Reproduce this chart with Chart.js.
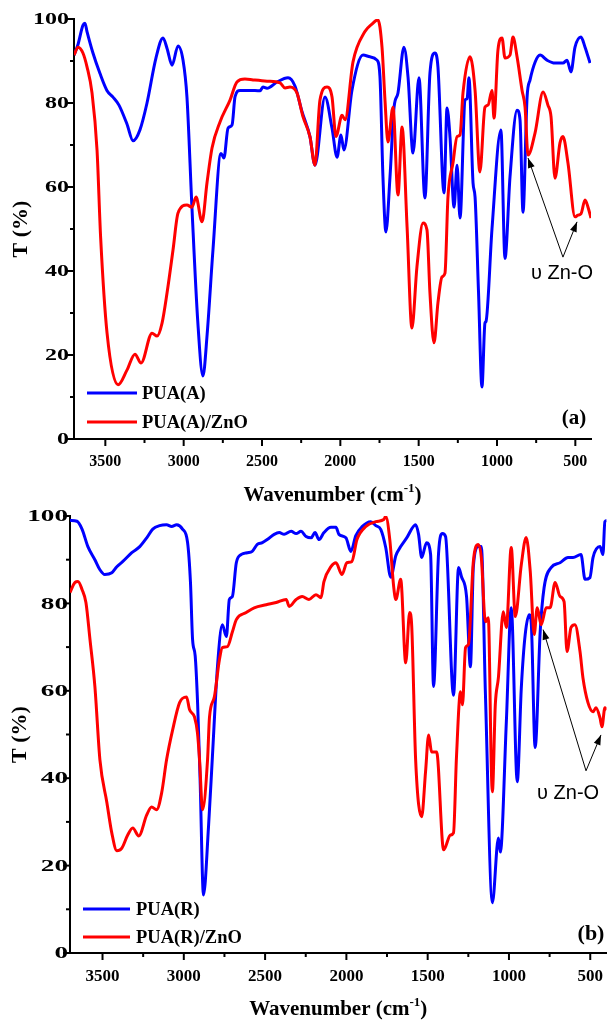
<!DOCTYPE html>
<html>
<head>
<meta charset="utf-8">
<script src="https://cdn.jsdelivr.net/npm/chart.js@4.4.1/dist/chart.umd.min.js"></script>
<style>
  body { margin: 0; background: #fff; }
  .panel { position: absolute; left: 0; }
  #panel-a { top: 0; }
  #panel-b { top: 505px; }
</style>
</head>
<body>
<div class="panel" id="panel-a"><canvas id="chart-a" width="609" height="505"></canvas></div>
<div class="panel" id="panel-b"><canvas id="chart-b" width="609" height="517"></canvas></div>
<script>
// axis ticks (cm-1 and %)
const xTickLabels = [3500, 3000, 2500, 2000, 1500, 1000, 500];
const xMinorTicks = [3250, 2750, 2250, 1750, 1250, 750];
const yTickLabels = [0, 20, 40, 60, 80, 100];
const yMinorTicks = [10, 30, 50, 70, 90];

// (a) PUA(A)
const puaA_wn = [3700, 3674, 3643, 3630, 3617, 3579, 3534, 3490, 3451, 3413,
  3362, 3323, 3279, 3234, 3177, 3132, 3106, 3074, 3036, 3004,
  2979, 2947, 2910, 2877, 2850, 2813, 2762, 2743, 2717, 2691,
  2672, 2640, 2577, 2513, 2494, 2468, 2404, 2334, 2289, 2245,
  2194, 2162, 2098, 2053, 2021, 1996, 1977, 1926, 1855, 1811,
  1766, 1747, 1728, 1709, 1683, 1657, 1632, 1594, 1568, 1536,
  1498, 1460, 1428, 1396, 1377, 1338, 1319, 1300, 1274, 1255,
  1236, 1204, 1191, 1179, 1153, 1140, 1118, 1096, 1077, 1070,
  1032, 975, 949, 917, 872, 853, 834, 808, 789, 757,
  725, 681, 630, 579, 553, 528, 502, 464, 438, 406];
const puaA_T = [91.4, 94, 98.5, 99, 97, 91.9, 87, 83, 81.4, 79.5,
  75, 71, 73.6, 80, 90.7, 95.5, 93, 89, 93.6, 90.2,
  81.4, 55, 28, 15, 25, 45, 68, 66.9, 74, 74.8,
  81.5, 83, 83, 82.9, 83.8, 83.5, 85, 86, 84, 78,
  72, 65.2, 81.4, 74, 67.1, 72.4, 68.8, 83, 91.4, 91,
  90.2, 86.2, 62.4, 49.3, 62.4, 79, 82.4, 93.3, 86.2, 68.1,
  86, 57.4, 87.1, 91.9, 88.6, 58.6, 78.8, 71.9, 55.2, 65.2,
  52.6, 80.7, 81, 86, 61, 57.6, 35, 12.4, 27.6, 28,
  50, 73.6, 43, 62.4, 78.3, 76, 54, 81.4, 85.5, 89.7,
  91.4, 90.2, 89.5, 89.5, 90.2, 87.4, 93.3, 95.7, 93.3, 89.5];

// (a) PUA(A)/ZnO
const puaAZnO_wn = [3700, 3674, 3643, 3617, 3585, 3553, 3530, 3489, 3419, 3362,
  3311, 3272, 3202, 3170, 3138, 3106, 3068, 3036, 2979, 2947,
  2921, 2883, 2851, 2819, 2768, 2704, 2660, 2609, 2557, 2468,
  2385, 2353, 2321, 2277, 2238, 2194, 2162, 2130, 2085, 2053,
  2028, 1989, 1970, 1919, 1843, 1798, 1760, 1734, 1715, 1696,
  1664, 1632, 1606, 1574, 1543, 1511, 1472, 1447, 1428, 1402,
  1377, 1351, 1332, 1313, 1281, 1255, 1236, 1217, 1172, 1140,
  1109, 1077, 1057, 1032, 1019, 994, 968, 949, 917, 898,
  872, 840, 821, 802, 757, 706, 675, 655, 630, 598,
  579, 547, 502, 483, 464, 438, 419, 400];
const puaAZnO_T = [91.4, 93.3, 91.9, 88.6, 82.4, 68.8, 48, 25.2, 12.9, 16.4,
  20.2, 18.1, 25.2, 24.5, 27.6, 34.8, 45, 53.8, 55.7, 55.2,
  57.6, 51.7, 61, 69.3, 75.5, 80.7, 85, 85.7, 85.5, 85.2,
  84.8, 83.6, 83.8, 82.4, 76.7, 72, 65.2, 80.7, 83.8, 81.4,
  72, 77.1, 76, 89.8, 97, 98.8, 99.8, 93.3, 80.7, 70.7,
  79, 58.1, 74.3, 50.5, 26.4, 41, 51.4, 49.8, 34.8, 22.9,
  32.4, 38.6, 39.5, 57.6, 65.7, 72, 72.4, 82.4, 91, 83,
  63.6, 79, 79.5, 83, 76.4, 92.6, 95.5, 90.7, 91.4, 95.7,
  91, 83, 79, 67.6, 72.9, 82.6, 79.5, 76.7, 62.1, 70.5,
  72, 65.7, 52.9, 53.3, 53.6, 56.9, 55.2, 52.6];

// (b) PUA(R)
const puaR_wn = [3700, 3657, 3626, 3590, 3547, 3516, 3486, 3443, 3412, 3375,
  3320, 3271, 3228, 3191, 3149, 3106, 3075, 3044, 3008, 2977,
  2959, 2946, 2930, 2915, 2900, 2879, 2848, 2824, 2793, 2763,
  2738, 2720, 2701, 2677, 2646, 2609, 2579, 2548, 2517, 2487,
  2444, 2413, 2383, 2340, 2309, 2279, 2248, 2217, 2193, 2168,
  2138, 2095, 2064, 2046, 2003, 1972, 1942, 1905, 1850, 1819,
  1788, 1758, 1727, 1696, 1666, 1629, 1574, 1556, 1537, 1507,
  1482, 1464, 1433, 1409, 1390, 1341, 1310, 1292, 1261, 1237,
  1219, 1188, 1170, 1145, 1102, 1065, 1053, 1016, 986, 949,
  924, 900, 875, 863, 839, 808, 784, 741, 686, 637,
  606, 557, 532, 502, 483, 440, 422, 410, 398];
const puaR_T = [99, 98.8, 97, 93, 90, 87.7, 86.6, 87, 88.4, 89.6,
  91.6, 93, 95, 97, 97.8, 98, 97.6, 98, 97, 94,
  84.8, 71.7, 68, 57, 40, 13.3, 28.9, 45, 65.5, 75.1,
  72.4, 80.9, 81.6, 89.3, 91.2, 91.6, 91.9, 93.5, 93.9, 94.6,
  95.8, 96.2, 95.8, 96.5, 96, 96.5, 95.3, 95, 96.2, 94.6,
  96.2, 97.4, 97.4, 95.8, 95, 91.9, 95.5, 97.5, 98.7, 97.8,
  96.9, 92.8, 86, 90.9, 93, 95, 98, 95.8, 90.5, 93.9,
  91.2, 61, 91.5, 96, 95.3, 59, 88.2, 86.1, 81.6, 65.5,
  88.4, 93, 93, 59.6, 11.5, 26.3, 23.1, 53, 79, 39.2,
  60.7, 72.9, 77.4, 75.6, 47, 73.5, 83.6, 88.2, 89.3, 90.5,
  90.5, 91.2, 85.5, 85.9, 90.5, 93, 91.2, 98.7, 99];

// (b) PUA(R)/ZnO
const puaRZnO_wn = [3700, 3669, 3651, 3626, 3602, 3577, 3547, 3516, 3473, 3443,
  3412, 3381, 3345, 3314, 3277, 3228, 3198, 3167, 3136, 3106,
  3069, 3026, 2983, 2965, 2934, 2916, 2903, 2885, 2854, 2842,
  2812, 2781, 2763, 2732, 2701, 2677, 2616, 2567, 2493, 2432,
  2370, 2352, 2309, 2272, 2230, 2187, 2156, 2138, 2095, 2064,
  2027, 1997, 1966, 1935, 1880, 1819, 1770, 1758, 1733, 1709,
  1696, 1666, 1635, 1611, 1598, 1574, 1537, 1513, 1494, 1476,
  1445, 1402, 1360, 1341, 1323, 1298, 1286, 1267, 1249, 1219,
  1188, 1170, 1145, 1127, 1108, 1102, 1084, 1065, 1035, 1016,
  986, 961, 924, 894, 869, 845, 826, 802, 771, 747,
  716, 686, 661, 643, 618, 594, 563, 545, 514, 483,
  465, 440, 428, 410, 398];
const puaRZnO_T = [82.5, 84.8, 85, 83.2, 80.2, 71.7, 61, 44.2, 34.4, 27.5,
  23.4, 24, 27, 28.6, 26.8, 31.6, 33.4, 32.8, 36.7, 44.2,
  51, 57.3, 58.6, 55.7, 54, 50.4, 44.2, 32.8, 44.2, 54,
  58.6, 67.1, 69.9, 70.1, 73.5, 76.3, 77.9, 79, 79.7, 80.2,
  80.9, 79.3, 80.9, 81.6, 80.9, 82, 81.3, 85, 88.4, 89.3,
  86.6, 89.3, 89.6, 94.6, 97.6, 98.7, 99.2, 99.9, 94.6, 83.8,
  80.9, 85.5, 66.4, 77.9, 74.7, 44.2, 31.2, 41.5, 49.9, 46,
  46, 23.6, 27, 27.5, 44.7, 59.8, 56.8, 69.9, 70.6, 89.6,
  93.5, 90.5, 75.8, 76.7, 41.5, 36.9, 56.8, 63, 78.1, 74.5,
  92.8, 77, 88.9, 95.1, 87.3, 72.9, 79, 75.1, 79, 79,
  84.8, 81.6, 80.4, 69, 74.5, 75.1, 69, 63, 57.3, 55.2,
  56.1, 53.8, 51.8, 56.1, 55.7];

const xTickValues = [...xTickLabels, ...xMinorTicks].sort((a, b) => b - a);
const yTickValues = [...yTickLabels, ...yMinorTicks].sort((a, b) => a - b);
const serif = '"Liberation Serif", "Times New Roman", serif';

Chart.defaults.font.family = serif;
Chart.defaults.color = '#000';

function drawArrow(ctx, x0, y0, x1, y1) {
  const a = Math.atan2(y1 - y0, x1 - x0);
  ctx.beginPath();
  ctx.moveTo(x0, y0);
  ctx.lineTo(x1, y1);
  ctx.stroke();
  ctx.beginPath();
  ctx.moveTo(x1, y1);
  ctx.lineTo(x1 - 10 * Math.cos(a) + 3.5 * Math.sin(a), y1 - 10 * Math.sin(a) - 3.5 * Math.cos(a));
  ctx.lineTo(x1 - 10 * Math.cos(a) - 3.5 * Math.sin(a), y1 - 10 * Math.sin(a) + 3.5 * Math.cos(a));
  ctx.closePath();
  ctx.fill();
}

// tick marks, stretched y labels, x title, legend, panel tag and the Zn-O note
const panelDecor = {
  id: 'panelDecor',
  afterDraw(chart, args, o) {
    const { ctx, chartArea, scales: { x, y } } = chart;
    ctx.save();
    ctx.fillStyle = '#000';
    ctx.strokeStyle = '#000';
    ctx.lineWidth = 2;
    x.ticks.forEach(t => {
      const px = x.getPixelForValue(t.value);
      const len = xTickLabels.includes(t.value) ? 7 : 4;
      ctx.beginPath();
      ctx.moveTo(px, chartArea.bottom);
      ctx.lineTo(px, chartArea.bottom + len);
      ctx.stroke();
    });
    y.ticks.forEach(t => {
      const py = y.getPixelForValue(t.value);
      const len = yTickLabels.includes(t.value) ? 7 : 4;
      ctx.beginPath();
      ctx.moveTo(chartArea.left - len, py);
      ctx.lineTo(chartArea.left, py);
      ctx.stroke();
    });

    ctx.font = 'bold 16px ' + serif;
    ctx.textAlign = 'right';
    ctx.textBaseline = 'middle';
    yTickLabels.forEach(v => {
      ctx.save();
      ctx.translate(o.yLabelRight, y.getPixelForValue(v));
      ctx.scale(o.yStretch, 1);
      ctx.fillText(String(v), 0, 1);
      ctx.restore();
    });

    // Wavenumber (cm-1) with a raised -1
    const big = 'bold ' + o.xTitleSize + 'px ' + serif;
    const small = 'bold ' + Math.round(o.xTitleSize * 0.62) + 'px ' + serif;
    ctx.textAlign = 'left';
    ctx.textBaseline = 'alphabetic';
    ctx.font = big;
    const w1 = ctx.measureText('Wavenumber (cm').width;
    const w3 = ctx.measureText(')').width;
    ctx.font = small;
    const w2 = ctx.measureText('-1').width;
    let tx = (chartArea.left + chartArea.right) / 2 - (w1 + w2 + w3) / 2;
    ctx.font = big;
    ctx.fillText('Wavenumber (cm', tx, o.xTitleY);
    tx += w1;
    ctx.font = small;
    ctx.fillText('-1', tx, o.xTitleY - o.xTitleSize * 0.42);
    tx += w2;
    ctx.font = big;
    ctx.fillText(')', tx, o.xTitleY);

    // legend
    ctx.textBaseline = 'middle';
    ctx.font = 'bold 18.5px ' + serif;
    chart.data.datasets.forEach((ds, i) => {
      const ly = o.legend.ys[i];
      ctx.strokeStyle = ds.borderColor;
      ctx.lineWidth = 3;
      ctx.beginPath();
      ctx.moveTo(o.legend.x0, ly);
      ctx.lineTo(o.legend.x1, ly);
      ctx.stroke();
      ctx.fillText(ds.label, o.legend.textX, ly + 1);
    });

    ctx.textAlign = 'center';
    ctx.font = 'bold ' + o.tag.size + 'px ' + serif;
    ctx.fillText(o.tag.text, o.tag.x, o.tag.y);

    // υ Zn-O arrows
    ctx.strokeStyle = '#000';
    ctx.lineWidth = 1;
    const fx = x.getPixelForValue(o.note.from[0]);
    const fy = y.getPixelForValue(o.note.from[1]);
    o.note.tips.forEach(p => {
      drawArrow(ctx, fx, fy, x.getPixelForValue(p[0]), y.getPixelForValue(p[1]));
    });
    ctx.font = '20px "Liberation Sans", Arial, sans-serif';
    ctx.fillText('\u03c5 Zn-O', x.getPixelForValue(o.note.label[0]), y.getPixelForValue(o.note.label[1]));
    ctx.restore();
  }
};

function buildPanel(canvasId, series, p) {
  return new Chart(document.getElementById(canvasId), {
    type: 'line',
    data: {
      datasets: series.map(s => ({
        label: s.label,
        data: s.wn.map((w, i) => ({ x: w, y: s.t[i] })),
        borderColor: s.color,
        borderWidth: 3,
        pointRadius: 0,
        fill: false,
        cubicInterpolationMode: 'monotone',
        order: s.order
      }))
    },
    options: {
      responsive: false,
      animation: false,
      layout: { padding: { top: p.top, right: p.right, left: 0, bottom: 0 } },
      plugins: {
        legend: { display: false },
        tooltip: { enabled: false },
        panelDecor: p
      },
      scales: {
        x: {
          type: 'linear',
          reverse: true,
          min: 400,
          max: 3700,
          afterBuildTicks: sc => { sc.ticks = xTickValues.map(v => ({ value: v })); },
          afterFit: sc => { sc.height = p.xAxisHeight; },
          ticks: {
            autoSkip: false,
            maxRotation: 0,
            padding: 6,
            font: { size: p.xTickSize, weight: 'bold' },
            callback: v => xTickLabels.includes(v) ? String(v) : ''
          },
          grid: { display: false, drawTicks: true, tickLength: 7 },
          border: { display: true, color: '#000', width: 2 }
        },
        y: {
          min: 0,
          max: 100,
          afterBuildTicks: sc => { sc.ticks = yTickValues.map(v => ({ value: v })); },
          afterFit: sc => { sc.width = p.yAxisWidth; },
          ticks: { display: false },
          grid: { display: false },
          border: { display: true, color: '#000', width: 2 },
          title: {
            display: true,
            text: 'T (%)',
            font: { size: 22, weight: 'bold' },
            padding: { top: p.yTitlePad, bottom: 0 }
          }
        }
      }
    },
    plugins: [panelDecor]
  });
}

buildPanel('chart-a', [
  { label: 'PUA(A)', wn: puaA_wn, t: puaA_T, color: '#0000ff', order: 1 },
  { label: 'PUA(A)/ZnO', wn: puaAZnO_wn, t: puaAZnO_T, color: '#ff0000', order: 0 }
], {
  top: 19, right: 18, yAxisWidth: 74, xAxisHeight: 66, xTickSize: 16, yTitlePad: 8,
  yLabelRight: 69, yStretch: 1.5, xTitleY: 501, xTitleSize: 21,
  legend: { x0: 87, x1: 137, textX: 142, ys: [393, 422] },
  tag: { text: '(a)', x: 574, y: 419, size: 21 },
  note: { from: [579, 43.3], tips: [[802, 66.9], [489, 51.7]], label: [585, 39.3] }
});

buildPanel('chart-b', [
  { label: 'PUA(R)', wn: puaR_wn, t: puaR_T, color: '#0000ff', order: 1 },
  { label: 'PUA(R)/ZnO', wn: puaRZnO_wn, t: puaRZnO_T, color: '#ff0000', order: 0 }
], {
  top: 11, right: 0, yAxisWidth: 70, xAxisHeight: 69, xTickSize: 17, yTitlePad: 7,
  yLabelRight: 68, yStretch: 1.7, xTitleY: 510, xTitleSize: 21,
  legend: { x0: 83, x1: 130, textX: 136, ys: [404, 432] },
  tag: { text: '(b)', x: 591, y: 429, size: 22 },
  note: { from: [526, 41.7], tips: [[790, 74], [434, 49.9]], label: [636, 36.4] }
});
</script>
</body>
</html>
